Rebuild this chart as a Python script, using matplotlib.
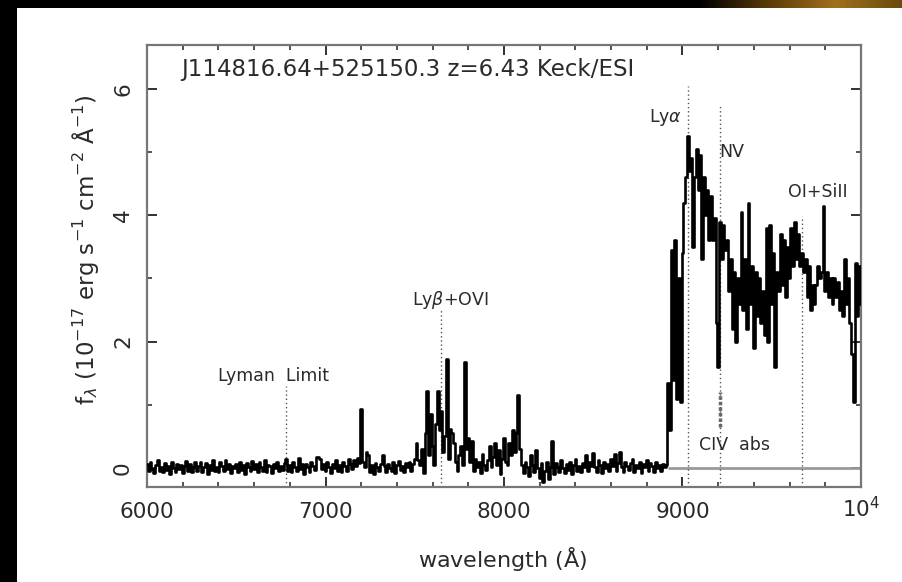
import numpy as np
import matplotlib.pyplot as plt
from matplotlib.ticker import MultipleLocator
from matplotlib.patches import Rectangle
from matplotlib.colors import LinearSegmentedColormap

# spectrum, blue part: 6000 A onward, one value every 10 A
blue_start, blue_step = 6000, 10
blue_flux = [
    0.06, -0.04, 0.09, -0.02, -0.08, 0.05, 0.12, -0.05, 0.02, -0.07,
    0.08, -0.03, 0.04, -0.09, 0.10, 0.00, -0.06, 0.07, -0.02, 0.05,
    -0.08, 0.03, 0.11, -0.04, 0.06, -0.07, 0.02, 0.09, -0.05, 0.04,
    0.10, -0.06, 0.01, 0.08, -0.09, 0.05, -0.03, 0.13, -0.04, 0.02,
    -0.07, 0.09, 0.03, -0.05, 0.12, -0.02, 0.06, -0.08, 0.04, 0.00,
    0.07, -0.06, 0.10, -0.03, 0.05, -0.09, 0.08, 0.02, -0.05, 0.11,
    -0.02, 0.06, -0.07, 0.09, 0.01, -0.04, 0.12, -0.06, 0.05, 0.03,
    -0.08, 0.07, 0.00, 0.10, -0.05, 0.04, -0.03, 0.08, 0.14, -0.04,
    0.05, -0.07, 0.09, 0.02, -0.05, 0.16, -0.02, 0.06, -0.09, 0.07,
    0.01, -0.06, 0.10, 0.04, -0.03, 0.17, 0.18, 0.15, -0.02, 0.06,
    -0.05, 0.09, 0.02, -0.08, 0.07, 0.00, 0.12, -0.04, 0.05, -0.07,
    0.10, 0.03, -0.05, 0.14, 0.06, -0.02, 0.13, 0.04, 0.16, 0.08,
    0.94, 0.10, 0.02, 0.26, 0.20, -0.06, 0.05, -0.09, 0.08, 0.01,
    -0.05, 0.07, 0.21, 0.03, -0.07, 0.06, 0.00, -0.04, 0.09, -0.08,
    0.05, 0.11, -0.03, 0.04, -0.06, 0.08, 0.02, 0.10, -0.04, 0.06,
    0.14, 0.40, 0.12, 0.05, 0.30, -0.08, 0.55, 1.22, 0.20, 0.85,
    0.35, 0.05, 0.70, 1.22, 0.60, 0.90, 0.25, 0.50, 1.72, 0.15,
    0.62, 0.55, 0.40, 0.10, -0.05, 0.20, 0.35, 0.05, 1.67, 0.30,
    0.48, 0.10, 0.42, -0.05, 0.15, 0.02, 0.10, -0.08, 0.22, 0.05,
    -0.03, 0.12, 0.35, 0.02, 0.18, 0.40, 0.05, 0.28, -0.10, 0.15,
    0.48, 0.10, 0.05, 0.40, 0.20, 0.60, 0.25, 0.55, 1.15, 0.30,
    0.05, -0.08, 0.10, 0.02, -0.12, 0.20, 0.05, -0.06, 0.28, 0.00,
    -0.15, 0.08, -0.22, -0.05, 0.10, -0.18, 0.02, 0.42, -0.10, 0.08,
    0.02, -0.06, 0.12, 0.00, -0.08, 0.06, -0.03, 0.09, -0.10, 0.05,
    0.15, -0.04, 0.03, -0.07, 0.08, 0.01, 0.20, -0.05, 0.10, 0.04,
    0.24, 0.02, -0.06, 0.12, 0.05, -0.08, 0.10, 0.00, 0.07, -0.04,
    0.15, 0.03, 0.22, -0.05, 0.08, 0.25, 0.02, -0.06, 0.10, 0.04,
    -0.03, 0.08, 0.15, -0.06, 0.05, 0.00, 0.10, -0.08, 0.06, 0.02,
    0.13, -0.05, 0.08, 0.03, -0.07, 0.10, 0.00, 0.05, -0.04, 0.06,
]

# spectrum, red part: 8900 A onward, one value every 10 A
red_start, red_step = 8900, 10
red_flux = [
    0.02, 0.05, 1.35, 0.60, 3.45, 1.40, 3.60, 1.10, 3.00, 1.05,
    3.40, 4.20, 4.60, 5.25, 4.70, 4.90, 3.50, 4.60, 5.05, 4.40,
    4.95, 3.30, 4.60, 4.00, 4.40, 3.60, 4.30, 3.60, 3.95, 2.30,
    1.60, 3.90, 3.30, 3.85, 3.45, 3.60, 2.80, 3.30, 2.20, 3.10,
    2.00, 3.00, 2.60, 4.05, 2.50, 3.30, 2.20, 4.20, 2.60, 3.20,
    1.90, 3.10, 2.40, 3.00, 2.30, 2.80, 2.10, 3.80, 2.00, 3.85,
    2.60, 3.40, 1.60, 3.10, 2.80, 3.70, 2.90, 3.60, 2.70, 3.50,
    3.00, 3.80, 3.20, 3.90, 3.30, 3.70, 3.20, 3.40, 3.10, 3.30,
    2.70, 3.20, 2.50, 2.90, 2.60, 2.90, 3.20, 3.00, 3.10, 4.15,
    2.80, 3.10, 2.70, 3.00, 2.60, 3.00, 2.70, 2.95, 2.50, 2.80,
    2.40, 3.30, 2.60, 3.00, 2.30, 1.80, 1.05, 3.25, 2.40, 3.20,
    2.60,
]

# emission / absorption line markers
line_names = ['Lyman  Limit', r'Ly$\beta$+OVI', r'Ly$\alpha$', 'NV', 'OI+SiII']
line_waves = [6776, 7647, 9030, 9208, 9667]
line_tops = [1.3, 2.5, 6.05, 5.76, 3.98]
civ_wave, civ_lo, civ_hi = 9208, 0.65, 1.2
zero_from = 8920

x_ticks = [6000, 7000, 8000, 9000, 10000]
x_labels = ['6000', '7000', '8000', '9000', r'$10^4$']
y_ticks = [0, 2, 4, 6]

blue_wave = blue_start + blue_step * np.arange(len(blue_flux))
red_wave = red_start + red_step * np.arange(len(red_flux))
wave = np.concatenate([blue_wave, red_wave])
flux = np.concatenate([blue_flux, red_flux])

W, H = 903, 582
fig = plt.figure(figsize=(W / 100, H / 100), dpi=100, facecolor='black')
fig.patches.append(Rectangle((17 / W, 0), 1, 1 - 8 / H, transform=fig.transFigure,
                             facecolor='white', edgecolor='none', zorder=-10))

# orange glow along the top right of the slide
glow = fig.add_axes([700 / W, 1 - 8 / H, 203 / W, 8 / H])
cmap = LinearSegmentedColormap.from_list('glow', ['black', '#5a3a08', '#a0701c', '#6a4a10'])
glow.imshow(np.linspace(0, 1, 200)[None, :], aspect='auto', cmap=cmap)
glow.axis('off')

ax = fig.add_axes([147 / W, 95 / H, 714 / W, 442.5 / H])
ax.set_facecolor('white')

ax.plot(wave, flux, drawstyle='steps-mid', color='black', lw=1.9, zorder=3)
ax.hlines(0, zero_from, 10000, color='#999999', lw=2, zorder=2)

txt = '#2a2a2a'
ax.vlines(line_waves, -0.3, line_tops, color='#555555', lw=1, linestyles=(0, (1, 2)), zorder=2)
ax.vlines(civ_wave, civ_lo, civ_hi, color='#666666', lw=2.5, linestyles=(0, (1, 0.6)), zorder=4)

ax.text(6706, 1.46, line_names[0], ha='center', va='center', fontsize=12.5, color=txt)
ax.text(7697, 2.66, line_names[1], ha='center', va='center', fontsize=12.5, color=txt)
ax.text(8907, 5.54, line_names[2], ha='center', va='center', fontsize=12.5, color=txt)
ax.text(9274, 5.0, line_names[3], ha='center', va='center', fontsize=12.5, color=txt)
ax.text(9756, 4.37, line_names[4], ha='center', va='center', fontsize=12.5, color=txt)
ax.text(9291, 0.36, 'CIV  abs', ha='center', va='center', fontsize=12.5, color=txt)

ax.text(6190, 6.30, 'J114816.64+525150.3 z=6.43 Keck/ESI', ha='left', va='center',
        fontsize=16.5, color=txt)

ax.set_xlim(6000, 10000)
ax.set_ylim(-0.3, 6.7)
ax.set_xticks(x_ticks, x_labels)
ax.set_yticks(y_ticks)
ax.xaxis.set_minor_locator(MultipleLocator(200))
ax.yaxis.set_minor_locator(MultipleLocator(1))
ax.tick_params(which='both', direction='in', top=True, right=True, color='#222222',
               labelcolor=txt, labelsize=15.5, pad=10)
ax.tick_params(axis='x', pad=22)
ax.tick_params(which='major', length=7, width=1.3)
ax.tick_params(which='minor', length=3.5, width=1.1)
ax.tick_params(axis='y', labelrotation=90)
for t in ax.xaxis.get_major_ticks():
    t.label1.set_va('baseline')
for lbl in ax.get_yticklabels():
    lbl.set_va('center')
for s in ax.spines.values():
    s.set_color('#777777')
    s.set_linewidth(1.6)

ax.set_xlabel(r'wavelength ($\mathrm{\AA}$)', fontsize=16, color=txt)
ax.xaxis.set_label_coords(0.4986, -0.131)
ax.set_ylabel(r'f$_\lambda$ (10$^{-17}$ erg s$^{-1}$ cm$^{-2}$ $\mathrm{\AA}^{-1}$)',
              fontsize=16.5, color=txt)
ax.yaxis.set_label_coords(-0.0644, 0.535)

fig.savefig('out.png', dpi=100, facecolor='black')
